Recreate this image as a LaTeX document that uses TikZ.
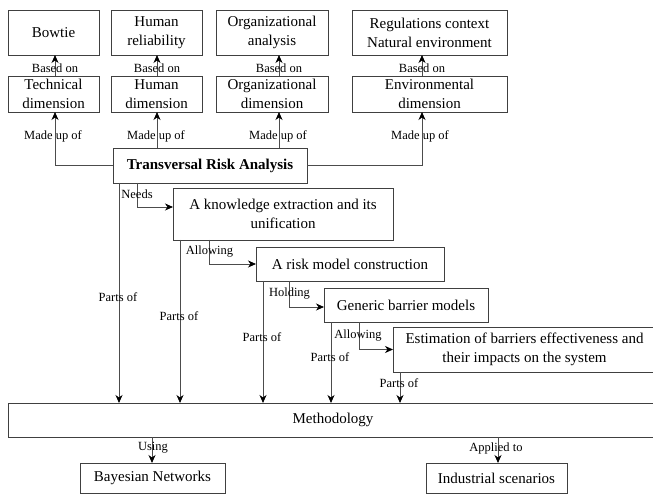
\documentclass[tikz,border=0pt]{standalone}
\usepackage{fontspec}
\setmainfont{Liberation Serif}
\usetikzlibrary{arrows.meta}
\begin{document}
\begin{tikzpicture}[x=1pt,y=-1pt,
  box/.style={draw=black!75,line width=0.9pt,rectangle,inner sep=0pt,outer sep=0pt,
    align=center,font=\fontsize{15}{19}\selectfont,text=black},
  lbl/.style={inner sep=0pt,font=\fontsize{12.5}{14}\selectfont,text=black},
  conn/.style={draw=black!70,line width=0.8pt,-{Stealth[length=8pt,width=7pt,inset=2.5pt,black]}}]
\clip (0,0) rectangle (653,494);
\fill[white] (0,0) rectangle (653,494);
% top row
\node[box,minimum width=91pt,minimum height=45pt] (bowtie) at (53.5,32.5) {Bowtie};
\node[box,minimum width=91pt,minimum height=45pt] (hrel) at (156.5,32.5) {Human\\reliability};
\node[box,minimum width=112pt,minimum height=45pt] (orga) at (272,32.5) {Organizational\\analysis};
\node[box,minimum width=155pt,minimum height=45pt] (regul) at (429.5,32.5) {Regulations context\\Natural environment};
% second row
\node[box,minimum width=91pt,minimum height=36pt] (tech) at (53.5,94) {Technical\\dimension};
\node[box,minimum width=91pt,minimum height=36pt] (hum) at (156.5,94) {Human\\dimension};
\node[box,minimum width=112pt,minimum height=36pt] (orgd) at (272,94) {Organizational\\dimension};
\node[box,minimum width=155pt,minimum height=36pt] (envd) at (429.5,94) {Environmental\\dimension};
% central chain
\node[box,minimum width=194pt,minimum height=35pt,font=\fontsize{15}{19}\selectfont\bfseries] (tra) at (210,165.5) {Transversal Risk Analysis};
\node[box,minimum width=220pt,minimum height=52pt] (know) at (283,214) {A knowledge extraction and its\\unification};
\node[box,minimum width=188pt,minimum height=34pt] (risk) at (350,264) {A risk model construction};
\node[box,minimum width=164pt,minimum height=34pt] (gen) at (406,305) {Generic barrier models};
\node[box,minimum width=263pt,minimum height=45pt] (est) at (524.5,349.5) {Estimation of barriers effectiveness and\\their impacts on the system};
\node[box,minimum width=650pt,minimum height=34pt] (meth) at (333,420) {Methodology};
\node[box,minimum width=145pt,minimum height=30pt] (bay) at (152.5,478) {Bayesian Networks};
\node[box,minimum width=141pt,minimum height=30pt] (ind) at (496.5,478) {Industrial scenarios};
% based on
\draw[conn] (tech.north -| 55,0) -- (bowtie.south -| 55,0);
\draw[conn] (hum.north -| 157,0) -- (hrel.south -| 157,0);
\draw[conn] (orgd.north -| 279,0) -- (orga.south -| 279,0);
\draw[conn] (envd.north -| 422,0) -- (regul.south -| 422,0);
\node[lbl] (b1) at (55,68) {Based on};
\node[lbl] (b2) at (157,68) {Based on};
\node[lbl] (b3) at (279,68) {Based on};
\node[lbl] (b4) at (422,68) {Based on};
% made up of
\draw[conn] (tra.west) -| (tech.south -| 55,0);
\draw[conn] (tra.north -| 157,0) -- (hum.south -| 157,0);
\draw[conn] (tra.north -| 279,0) -- (orgd.south -| 279,0);
\draw[conn] (tra.east) -| (envd.south -| 422,0);
\node[lbl] (m1) at (53,136) {Made up of};
\node[lbl] (m2) at (156,136) {Made up of};
\node[lbl] (m3) at (278,136) {Made up of};
\node[lbl] (m4) at (420,136) {Made up of};
% chain
\draw[conn] (tra.south -| 137,0) |- (know.west |- 0,207);
\node[lbl] (n1) at (137,194) {Needs};
\draw[conn] (know.south -| 209,0) |- (risk.west);
\node[lbl] (a1) at (209.5,252) {Allowing};
\draw[conn] (risk.south -| 289,0) |- (gen.west |- 0,307);
\node[lbl] (h1) at (289.5,294) {Holding};
\draw[conn] (gen.south -| 359,0) |- (est.west);
\node[lbl] (a2) at (358,336) {Allowing};
% parts of
\draw[conn] (tra.south -| 119,0) -- (meth.north -| 119,0);
\draw[conn] (know.south -| 180,0) -- (meth.north -| 180,0);
\draw[conn] (risk.south -| 263,0) -- (meth.north -| 263,0);
\draw[conn] (gen.south -| 331,0) -- (meth.north -| 331,0);
\draw[conn] (est.south -| 400,0) -- (meth.north -| 400,0);
\node[lbl] (p1) at (118,297) {Parts of};
\node[lbl] (p2) at (179,316) {Parts of};
\node[lbl] (p3) at (262,337) {Parts of};
\node[lbl] (p4) at (330,357) {Parts of};
\node[lbl] (p5) at (399,383) {Parts of};
% bottom
\draw[conn] (meth.south -| 152,0) -- (bay.north -| 152,0);
\draw[conn] (meth.south -| 498,0) -- (ind.north -| 498,0);
\node[lbl] (u1) at (153,448) {Using};
\node[lbl] (u2) at (496,448) {Applied to};
\end{tikzpicture}
\end{document}
